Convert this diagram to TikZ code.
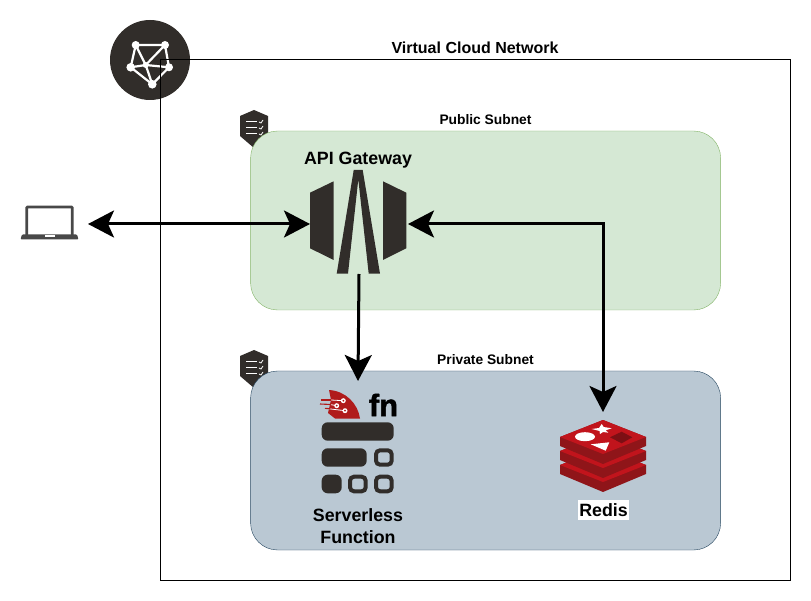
\documentclass[tikz,border=0pt]{standalone}
\usepackage{xcolor}
\usepackage{fontspec}
\setmainfont{Liberation Sans}
\newfontfamily\brandfont{Liberation Sans Bold}[FakeBold=1.5]
\usepackage{tikz}
\usetikzlibrary{arrows.meta}
\definecolor{icondark}{HTML}{312D2A}
\definecolor{laptopgrey}{HTML}{484848}
\definecolor{redistop}{HTML}{C1141C}
\definecolor{redisside}{HTML}{8F1519}
\definecolor{redishole}{HTML}{7C0F14}
\definecolor{fnred}{HTML}{B01B1B}
\definecolor{publicfill}{HTML}{D5E8D4}
\definecolor{publicline}{HTML}{82B366}
\definecolor{privatefill}{HTML}{BAC8D3}
\definecolor{privateline}{HTML}{23445D}
\tikzstyle{zone} = [rectangle, inner sep=0pt, outer sep=0pt, rounded corners=27pt, minimum width=470pt, minimum height=179pt]
\tikzstyle{publiczone} = [zone, fill=publicfill, draw=publicline]
\tikzstyle{privatezone} = [zone, fill=privatefill, draw=privateline]
\tikzstyle{icon} = [rectangle, inner sep=0pt, outer sep=0pt]
\tikzstyle{title} = [inner sep=0pt, font=\bfseries\fontsize{16}{19}\selectfont]
\tikzstyle{subtitle} = [inner sep=0pt, font=\bfseries\fontsize{13.8}{15}\selectfont]
\tikzstyle{iconlabel} = [inner sep=0pt, align=center, font=\bfseries\fontsize{17.8}{22}\selectfont]
\tikzstyle{both} = [line width=3pt, {Stealth[length=26pt,width=27pt,inset=6pt]}-{Stealth[length=26pt,width=27pt,inset=6pt]}]
\tikzstyle{single} = [line width=3pt, -{Stealth[length=26pt,width=27pt,inset=6pt]}]
\tikzset{
	shield/.pic={
		\fill[icondark] (0,-19) -- (14,-13) -- (14,6) -- (0,19) -- (-14,7) -- (-14,-13) -- cycle;
		\foreach \y in {-7,-1,5} {
			\draw[white, line width=1pt] (-8,\y) -- (3,\y);
			\draw[white, line width=0.8pt] (5,\y) -- (7,\y+1) -- (9,\y-2);
		}
	},
	redislayer/.pic={
		\fill[redisside] (-43,0) -- (0,-17) -- (43,0) -- (43,9) -- (0,27) -- (-43,9) -- cycle;
		\fill[redistop] (-43,0) -- (0,-17) -- (43,0) -- (0,17) -- cycle;
	}
}
\begin{document}
\begin{tikzpicture}[x=1pt, y=-1pt]
	\useasboundingbox (0,0) rectangle (811,601);

	% network badge
	\fill[icondark] (150,60) circle (40);
	\draw[white, line width=2.2pt, line join=round] (135.7,45) -- (165,45) -- (145.7,65) -- (135.7,45) -- (130.7,67.3) -- (152.3,84.3) -- (169,67.3) -- (145.7,65) -- (130.7,67.3);
	\draw[white, line width=2.2pt] (145.7,65) -- (152.3,84.3);
	\draw[white, line width=2.2pt] (165,45) -- (169,67.3);
	\foreach \x/\y/\r in {135.7/45/4, 165/45/4, 169/67.3/4, 152.3/84.3/4.3, 130.7/67.3/4.3, 145.7/65/3} {
		\fill[white] (\x,\y) circle (\r);
	}
	\node (Network)[draw=black, line width=1pt, rectangle, inner sep=0pt, minimum width=630pt, minimum height=520pt] at (475.8,320){};
	\node (Network Title)[title] at (475,48){Virtual Cloud Network};

	% subnets
	\pic at (254,129) {shield};
	\pic at (254,369) {shield};
	\node (Public Subnet)[publiczone] at (485.6,220.5){};
	\node (Private Subnet)[privatezone] at (485.6,460.5){};
	\node (Public Title)[subtitle] at (485.5,120){Public Subnet};
	\node (Private Title)[subtitle] at (485.5,360){Private Subnet};

	% laptop
	\node (Laptop)[icon, minimum width=76pt, minimum height=40pt] at (50,224){};
	\draw[laptopgrey, line width=2.8pt, rounded corners=1pt] (26.7,235) -- (26.7,207) -- (72.3,207) -- (72.3,235);
	\fill[laptopgrey, rounded corners=1pt] (22,234.5) -- (77,234.5) -- (78.5,239.5) -- (20.5,239.5) -- cycle;
	\fill[white] (44.5,235.3) rectangle (55,237);

	% gateway
	\node (API Gateway)[icon, minimum width=98pt, minimum height=100pt] at (359,224){};
	\node (Gateway Title)[iconlabel] at (358,160){API Gateway};
	\fill[icondark] (310,192.7) -- (333.7,181.3) -- (333.7,260) -- (310,248.3) -- cycle;
	\fill[icondark] (406.3,192.7) -- (383,181.3) -- (383,260) -- (406.3,248.3) -- cycle;
	\fill[icondark] (353.7,170) -- (362.7,170) -- (380,273.7) -- (368.7,273.7) -- (358.3,179.3) -- (348,273.7) -- (336.7,273.7) -- cycle;

	% serverless function
	\node (Function)[icon, minimum width=76pt, minimum height=113pt] at (358,437.5){};
	\fill[icondark, rounded corners=6pt] (321.7,422.3) rectangle (393.7,440.7);
	\fill[icondark, rounded corners=6pt] (321.7,448.3) rectangle (366.7,466.7);
	\fill[icondark, rounded corners=6pt] (321.7,474.7) rectangle (341.7,493.3);
	\foreach \x in {374,348} {
		\draw[icondark, line width=4pt, rounded corners=4pt] (\x+2,476.7) rectangle (\x+17.7,491.3);
	}
	\draw[icondark, line width=4pt, rounded corners=4pt] (376,450.3) rectangle (391.7,464.7);
	\fill[fnred] (329,390) .. controls (346,391) and (358,404) .. (360,418.5) -- (335,418.5) -- (328,413) -- (331,400) -- cycle;
	\draw[white, line width=0.8pt] (331,400) -- (343.3,400.7);
	\draw[white, line width=0.8pt] (330,404.5) -- (336.7,405.7);
	\draw[white, line width=0.8pt] (329,408.8) -- (345,410.7);
	\draw[fnred, line width=1.1pt] (321,400) -- (331,400);
	\draw[fnred, line width=1.1pt] (320,404) -- (331,404.5);
	\draw[fnred, line width=1.1pt] (325,408.3) -- (330,408.8);
	\foreach \x/\y in {343.3/400.7, 336.7/405.7, 345/410.7} {
		\fill[white] (\x,\y) circle (2.5);
		\fill[fnred] (\x,\y) circle (1);
	}
	\node (Function Brand)[inner sep=0pt, font=\brandfont\fontsize{31}{31}\selectfont] at (383.5,405){fn};
	\node (Function Title)[iconlabel] at (358,526){Serverless\\Function};

	% redis
	\node (Redis)[icon, minimum width=86pt, minimum height=80pt] at (603,452){};
	\pic at (603,465) {redislayer};
	\pic at (603,451) {redislayer};
	\pic at (603,437) {redislayer};
	\fill[white] (601.7,424) -- (603.7,427) -- (611.7,428.3) -- (605.7,430.3) -- (608.3,432.7) -- (603,432) -- (600,434) -- (599.5,431) -- (591.7,429) -- (599,428) -- cycle;
	\fill[white] (585,436.7) ellipse (10 and 4.5);
	\fill[white] (590.7,444.3) -- (609.3,442.3) -- (605.7,450.7) -- cycle;
	\fill[redishole] (610,437.3) -- (621.7,431.7) -- (632.3,437.3) -- (621.7,443.3) -- cycle;
	\node (Redis Title)[iconlabel, fill=white, inner xsep=1.5pt, inner ysep=3pt] at (603.5,510){Redis};

	% connectors
	\draw [both] (Laptop.east) -- (API Gateway.west);
	\draw [single] (API Gateway.south) -- (Function.north);
	\draw [both] (API Gateway.east) -| (Redis.north);
\end{tikzpicture}
\end{document}
